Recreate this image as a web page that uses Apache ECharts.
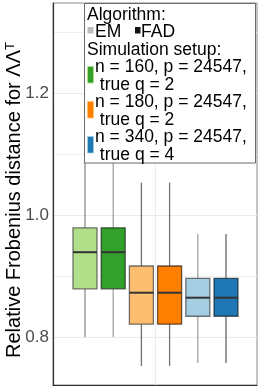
<!DOCTYPE html>
<html><head><meta charset="utf-8">
<script src="https://cdn.jsdelivr.net/npm/echarts@6/dist/echarts.min.js"></script>
<style>html,body{margin:0;padding:0;background:#fff}#c{width:258px;height:387px}</style>
</head><body><div id="c"></div>
<script>
// ---- data ----
const categories = [''];
const algorithms = ['EM', 'FAD'];
const setupLabels = ['n = 160, p = 24547,\n true q = 2', 'n = 180, p = 24547,\n true q = 2', 'n = 340, p = 24547,\n true q = 4'];
// [lower whisker, Q1, median, Q3, upper whisker]
const em160  = [0.800, 0.879, 0.939, 0.979, 1.125];
const fad160 = [0.800, 0.879, 0.939, 0.979, 1.125];
const em180  = [0.7525, 0.821, 0.8726, 0.9164, 1.053];
const fad180 = [0.7525, 0.821, 0.8726, 0.9164, 1.053];
const em340  = [0.7574, 0.834, 0.8644, 0.8962, 0.9689];
const fad340 = [0.7574, 0.834, 0.8644, 0.8962, 0.9689];
const yTicks = [0.8, 1.0, 1.2];
const yMinorTicks = [0.9, 1.1, 1.3];
const yRange = [0.7213, 1.3475];
const yTitle = 'Relative Frobenius distance for ΛΛ';

// ---- style ----
const FONT = '"Liberation Sans", Arial, Helvetica, sans-serif';
const boxes = [
  {stats: em160,  fill: '#b2df8a', stroke: 'rgba(70,70,70,0.75)', whisker: '#8c8c8c'},
  {stats: fad160, fill: '#33a02c', stroke: 'rgba(20,20,20,0.65)', whisker: '#a3a3a3'},
  {stats: em180,  fill: '#fdbf6f', stroke: 'rgba(70,70,70,0.75)', whisker: '#707070'},
  {stats: fad180, fill: '#ff7f00', stroke: 'rgba(20,20,20,0.65)', whisker: '#747474'},
  {stats: em340,  fill: '#a6cee3', stroke: 'rgba(70,70,70,0.75)', whisker: '#a3a3a3'},
  {stats: fad340, fill: '#1f78b4', stroke: 'rgba(20,20,20,0.65)', whisker: '#666666'}
];
const SLOT = 28.2 / 204;

function makeRender(slot, b) {
  return function (params, api) {
    const bw = api.size([1, 0])[0];
    const slotW = bw * SLOT;
    const boxW = 24 / 204 * bw;
    const cx = api.coord([api.value(0), yRange[0]])[0] + (slot - 2.5) * slotW + 0.5;
    const y = k => api.coord([api.value(0), api.value(k)])[1];
    const yMin = y(1), yQ1 = y(2), yMed = y(3), yQ3 = y(4), yMax = y(5);
    return {type: 'group', children: [
      {type: 'line', shape: {x1: cx, y1: yMax, x2: cx, y2: yQ3}, style: {stroke: b.whisker, lineWidth: 1.3}},
      {type: 'line', shape: {x1: cx, y1: yQ1, x2: cx, y2: yMin}, style: {stroke: b.whisker, lineWidth: 1.3}},
      {type: 'rect', shape: {x: cx - boxW / 2, y: yQ3, width: boxW, height: yQ1 - yQ3}, style: {fill: b.fill, stroke: b.stroke, lineWidth: 1.3}},
      {type: 'line', shape: {x1: cx - boxW / 2, y1: yMed, x2: cx + boxW / 2, y2: yMed}, style: {stroke: '#333', lineWidth: 2}}
    ]};
  };
}

const series = boxes.map((b, i) => ({
  type: 'custom',
  xAxisIndex: 0, yAxisIndex: 0,
  renderItem: makeRender(i, b),
  encode: {x: 0, y: [1, 2, 3, 4, 5]},
  data: [[0].concat(b.stats)],
  clip: false,
  silent: true,
  z: 2
}));

// legend graphic
const LX = 84.5, LY = 3.5;
const fs = 17.5;
const ZL = 100;
const legendEls = [
  {type: 'rect', z: ZL, shape: {x: LX, y: LY, width: 171, height: 159.5}, style: {fill: '#fff', stroke: '#6a6a6a', lineWidth: 1}},
  {type: 'text', z: ZL + 1, x: 87, y: 15, style: {text: 'Algorithm:', font: fs + 'px ' + FONT, fill: '#000', verticalAlign: 'middle'}},
  {type: 'rect', z: ZL + 1, shape: {x: 87.5, y: 27, width: 6, height: 6.5}, style: {fill: '#bdbdbd'}},
  {type: 'text', z: ZL + 1, x: 95, y: 32.5, style: {text: algorithms[0], font: fs + 'px ' + FONT, fill: '#000', verticalAlign: 'middle'}},
  {type: 'rect', z: ZL + 1, shape: {x: 135, y: 27, width: 5.5, height: 6.5}, style: {fill: '#111'}},
  {type: 'text', z: ZL + 1, x: 141, y: 32.5, style: {text: algorithms[1], font: fs + 'px ' + FONT, fill: '#000', verticalAlign: 'middle'}},
  {type: 'text', z: ZL + 1, x: 87, y: 50, style: {text: 'Simulation setup:', font: fs + 'px ' + FONT, fill: '#000', verticalAlign: 'middle'}}
];
const keyPairs = [[boxes[1].fill, boxes[0].fill], [boxes[3].fill, boxes[2].fill], [boxes[5].fill, boxes[4].fill]];
setupLabels.forEach((lab, i) => {
  const cy = 67.5 + i * 35;
  legendEls.push({type: 'rect', z: ZL + 1, shape: {x: 87.5, y: cy - 1, width: 6, height: 16.5}, style: {fill: keyPairs[i][0], stroke: keyPairs[i][1], lineWidth: 0.8}});
  lab.split('\n').forEach((ln, j) => {
    legendEls.push({type: 'text', z: ZL + 1, x: 95, y: cy + j * 17.5, style: {text: ln, font: fs + 'px ' + FONT, fill: '#000', verticalAlign: 'middle'}});
  });
});

const option = {
  backgroundColor: '#fff',
  animation: false,
  grid: {left: 53, right: 1, top: 3, bottom: 2, containLabel: false, show: true, borderColor: '#8a8a8a', borderWidth: 1, backgroundColor: 'transparent'},
  xAxis: [
    {type: 'category', data: categories, boundaryGap: true,
     axisLine: {show: true, onZero: false, lineStyle: {color: '#333', width: 1.2}},
     axisTick: {show: false}, axisLabel: {show: false}, splitLine: {show: false}},
    {type: 'value', min: 0, max: 2, position: 'bottom',
     axisLine: {show: false}, axisTick: {show: false, customValues: [1]}, axisLabel: {show: false, customValues: [1]},
     splitLine: {show: true, lineStyle: {color: '#ebebeb', width: 1}}}
  ],
  yAxis: [
    {type: 'value', min: yRange[0], max: yRange[1],
     axisLine: {show: true, lineStyle: {color: '#333', width: 1.2}},
     axisTick: {show: false, customValues: yTicks},
     axisLabel: {customValues: yTicks, formatter: v => v.toFixed(1), color: '#4d4d4d', fontSize: 17, fontFamily: FONT, margin: 4},
     splitLine: {show: true, lineStyle: {color: '#ebebeb', width: 1}}},
    {type: 'value', min: yRange[0], max: yRange[1], position: 'left',
     axisLine: {show: false}, axisTick: {show: false, customValues: yMinorTicks}, axisLabel: {show: false, customValues: yMinorTicks},
     splitLine: {show: true, lineStyle: {color: '#f0f0f0', width: 1}}}
  ],
  series: series,
  graphic: {
    elements: [
      {type: 'text', x: 14, y: 200, rotation: Math.PI / 2, z: 50,
       style: {text: '{m|' + yTitle + '}{s|T}', align: 'center', verticalAlign: 'middle',
         rich: {m: {fontSize: 20, fontFamily: FONT, color: '#000'},
                s: {fontSize: 13, fontFamily: FONT, color: '#000', verticalAlign: 'top'}}}}
    ].concat(legendEls)
  }
};
const chart = echarts.init(document.getElementById('c'), null, {renderer: 'canvas'});
chart.setOption(option);
</script></body></html>
